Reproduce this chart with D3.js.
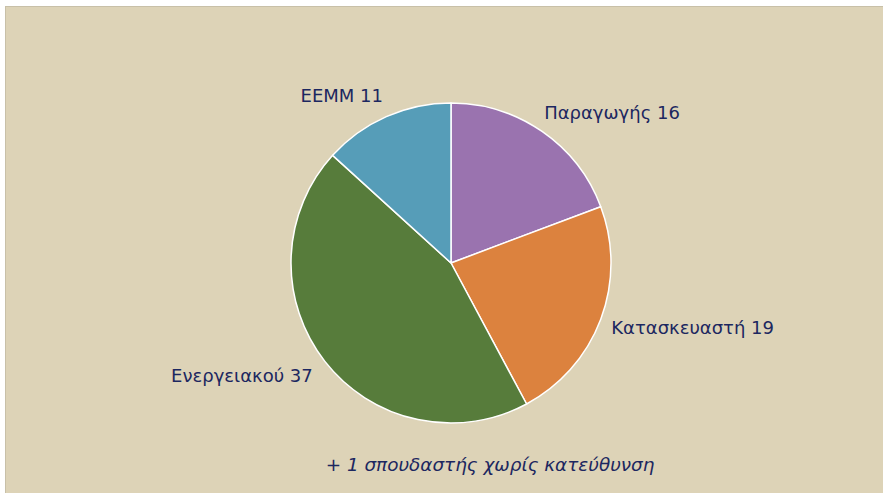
<!DOCTYPE html>
<html>
<head>
<meta charset="utf-8">
<style>
  body { margin: 0; background: #fff; }
  svg { display: block; }
  text { font-family: "DejaVu Sans", Verdana, sans-serif; fill: #1c2760; }
</style>
</head>
<body>
<svg></svg>
<script src="https://cdn.jsdelivr.net/npm/d3@7"></script>
<script>

  // slices, clockwise from 12 o'clock
  const categories = ["Παραγωγής", "Κατασκευαστή", "Ενεργειακού", "ΕΕΜΜ"]
  const counts = [16, 19, 37, 11]
  const sliceColors = ["#9a73af", "#dc823e", "#577c3b", "#569db8"]
  const footnote = "+ 1 σπουδαστής χωρίς κατεύθυνση"

  const width = 883, height = 493
  const cx = 451, cy = 263, radius = 160, labelRadius = 183

  const svg = d3.select("svg")
      .attr("width", width)
      .attr("height", height)

  // beige panel
  svg.append("rect")
    .attr("x", 5.5).attr("y", 6.5)
    .attr("width", width).attr("height", height)
    .attr("fill", "#ddd3b7")
    .attr("stroke", "#c8c0a8")
    .attr("stroke-width", 1)

  const data = categories.map((c, i) => ({name: c, value: counts[i], color: sliceColors[i]}))

  const pie = d3.pie()
    .value(d => d.value)
    .sort(null)

  const arc = d3.arc()
    .innerRadius(0)
    .outerRadius(radius)

  const labelArc = d3.arc()
    .innerRadius(labelRadius)
    .outerRadius(labelRadius)

  const g = svg.append("g")
    .attr("transform", `translate(${cx}, ${cy})`)

  const arcs = pie(data)

  g.selectAll("path")
    .data(arcs)
    .enter().append("path")
      .attr("d", arc)
      .attr("fill", d => d.data.color)
      .attr("stroke", "#ffffff")
      .attr("stroke-width", 1.5)
      .attr("stroke-linejoin", "round")

  // labels outside the pie, anchored away from the centre
  g.selectAll("text.label")
    .data(arcs)
    .enter().append("text")
      .attr("class", "label")
      .attr("transform", d => `translate(${labelArc.centroid(d)})`)
      .attr("text-anchor", d => {
        const mid = (d.startAngle + d.endAngle) / 2
        return mid < Math.PI ? "start" : "end"
      })
      .attr("dx", d => {
        const mid = (d.startAngle + d.endAngle) / 2
        return mid < Math.PI ? -11 : 6
      })
      .attr("dy", "0.35em")
      .style("font-size", "18px")
      .text(d => `${d.data.name} ${d.data.value}`)

  svg.append("text")
    .attr("x", 490)
    .attr("y", 471)
    .attr("text-anchor", "middle")
    .style("font-size", "18.4px")
    .style("font-style", "italic")
    .text(footnote)

</script>
</body>
</html>
